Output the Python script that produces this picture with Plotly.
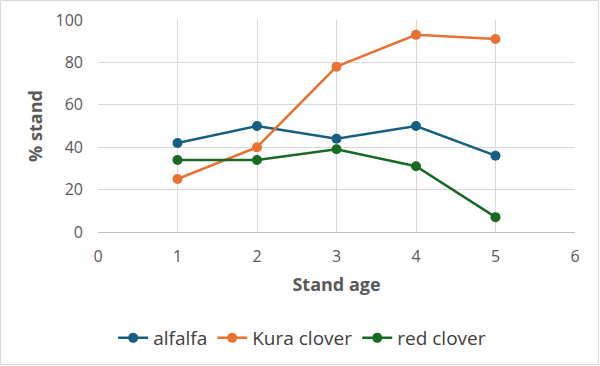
import plotly.graph_objects as go

stand_age = [1, 2, 3, 4, 5]
alfalfa = [42, 50, 44, 50, 36]
kura_clover = [25, 40, 78, 93, 91]
red_clover = [34, 34, 39, 31, 7]

series = [
    ("alfalfa", alfalfa, "#156082"),
    ("Kura clover", kura_clover, "#E97132"),
    ("red clover", red_clover, "#196B24"),
]

FONT = "Open Sans, Lato, sans-serif"
fig = go.Figure()
for name, vals, col in series:
    fig.add_trace(go.Scatter(
        x=stand_age, y=vals, name=name, mode="lines+markers",
        line=dict(color=col, width=2.5),
        marker=dict(color=col, size=10),
    ))

L, R, T, B = 98, 25, 20, 134
W, H = 600, 366
pw, ph = W - L - R, H - T - B

fig.update_layout(
    width=W, height=H,
    margin=dict(l=L, r=R, t=T, b=B, autoexpand=False),
    paper_bgcolor="white", plot_bgcolor="white",
    font=dict(family=FONT, size=16, color="#595959"),
    showlegend=True,
    legend=dict(orientation="h", x=0.428, xanchor="center",
                y=(T + ph - 338) / ph, yanchor="middle",
                font=dict(size=19, color="#404040"),
                itemwidth=30, tracegroupgap=0),
    xaxis=dict(range=[0, 6], dtick=1, showgrid=True, gridcolor="#d9d9d9",
               gridwidth=1, zeroline=False, showline=True, linecolor="#bfbfbf",
               ticks="", tickfont=dict(size=16), ticklabelstandoff=10,
               title=dict(text="<b>Stand age</b>", font=dict(size=18), standoff=12)),
    yaxis=dict(range=[0, 100], dtick=20, showgrid=True, gridcolor="#d9d9d9",
               gridwidth=1, zeroline=False, showline=False,
               ticks="", tickfont=dict(size=16), ticklabelstandoff=14,
               title=dict(text="<b>% stand</b>", font=dict(size=18), standoff=8)),
    shapes=[dict(type="rect", xref="paper", yref="paper",
                 x0=(0.5 - L) / pw, x1=(W - 1.5 - L) / pw,
                 y0=-(H - 1.5 - T - ph) / ph, y1=1 + (T - 0.5) / ph,
                 line=dict(color="#d9d9d9", width=1), fillcolor="rgba(0,0,0,0)",
                 layer="below")],
)

fig.write_html("out.html", config={"displayModeBar": False},
               post_script="document.body.style.margin='0';document.body.style.overflow='hidden';")
